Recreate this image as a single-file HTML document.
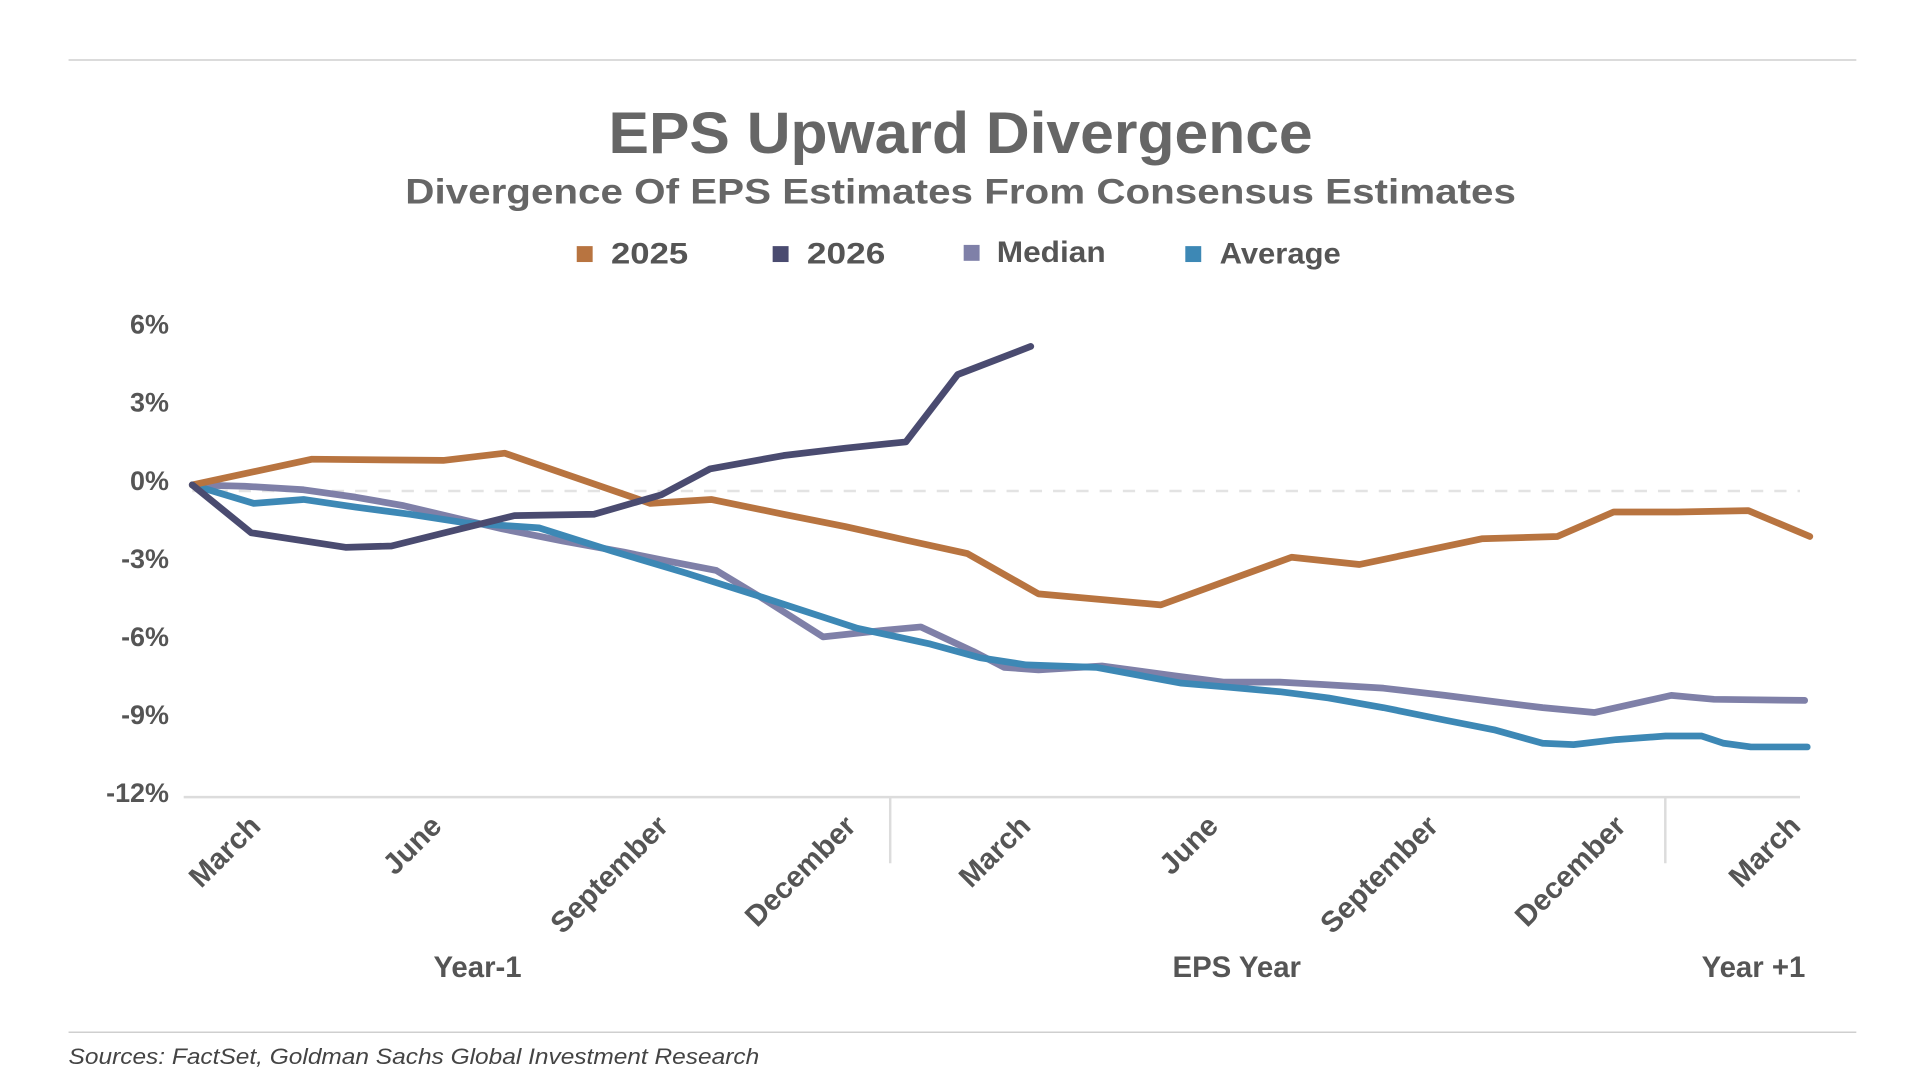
<!DOCTYPE html>
<html><head><meta charset="utf-8"><style>
html,body{margin:0;padding:0;background:#fff;width:1920px;height:1080px;overflow:hidden}
svg{display:block}
text{font-family:"Liberation Sans",sans-serif}
</style></head><body>
<svg id="chart" width="1920" height="1080" viewBox="0 0 1568 882" xmlns="http://www.w3.org/2000/svg">
<line x1="56" y1="49" x2="1516" y2="49" stroke="#cfcfcf" stroke-width="1.2"/>
<text x="497" y="125" textLength="575" lengthAdjust="spacingAndGlyphs" font-size="48" font-weight="bold" fill="#666">EPS Upward Divergence</text>
<text x="331" y="166" textLength="907" lengthAdjust="spacingAndGlyphs" font-size="29" font-weight="bold" fill="#666">Divergence Of EPS Estimates From Consensus Estimates</text>
<g font-size="24" font-weight="bold" fill="#555">
 <g><rect x="471" y="201" width="13" height="13" fill="#b87440"/><text x="499" y="215" textLength="63" lengthAdjust="spacingAndGlyphs">2025</text></g>
 <g><rect x="631" y="201" width="13" height="13" fill="#4a4b70"/><text x="659" y="215" textLength="64" lengthAdjust="spacingAndGlyphs">2026</text></g>
 <g><rect x="787" y="200" width="13" height="13" fill="#7f80a8"/><text x="814" y="214" textLength="89" lengthAdjust="spacingAndGlyphs">Median</text></g>
 <g><rect x="968" y="201" width="13" height="13" fill="#3d88b5"/><text x="996" y="215" textLength="99" lengthAdjust="spacingAndGlyphs">Average</text></g>
</g>
<g id="yaxis"></g>
<line x1="157" y1="401" x2="1470" y2="401" stroke="#e3e3e3" stroke-width="2" stroke-dasharray="10,9"/>
<line x1="150" y1="651" x2="1470" y2="651" stroke="#dcdcdc" stroke-width="2"/>
<line x1="727" y1="651" x2="727" y2="705" stroke="#dcdcdc" stroke-width="2"/>
<line x1="1360" y1="651" x2="1360" y2="705" stroke="#dcdcdc" stroke-width="2"/>
<g id="xlabels"></g>
<g font-size="24" font-weight="bold" fill="#555" text-anchor="middle">
 <text x="390" y="798">Year-1</text>
 <text x="1010" y="798">EPS Year</text>
 <text x="1432" y="798">Year +1</text>
</g>
<g id="series"></g>
<line x1="56" y1="843" x2="1516" y2="843" stroke="#cfcfcf" stroke-width="1.2"/>
<text x="56" y="869" textLength="564" lengthAdjust="spacingAndGlyphs" font-size="18" font-style="italic" fill="#444">Sources: FactSet, Goldman Sachs Global Investment Research</text>
</svg>
<script>
const yTicks=[6,3,0,-3,-6,-9,-12];
const yTickLabels=["6%","3%","0%","-3%","-6%","-9%","-12%"];
const xTickMonths=[0.4,3.2,6.7,9.6,12.3,15.2,18.6,21.5,24.2];
const xTickLabels=["March","June","September","December","March","June","September","December","March"];
const x2025=[0,1.85,3.88,4.83,7.08,8.02,9.14,10.09,11.03,11.98,13.08,14.97,16.99,18.04,19.93,21.1,21.97,22.96,24.05,25.0];
const v2025=[0,0.99,0.94,1.22,-0.71,-0.56,-1.13,-1.6,-2.12,-2.64,-4.19,-4.61,-2.78,-3.06,-2.07,-1.98,-1.04,-1.04,-0.99,-1.98];
const x2026=[0,0.91,2.37,3.08,3.84,4.98,6.21,7.25,8.0,9.14,10.09,11.03,11.83,12.96];
const v2026=[0,-1.84,-2.4,-2.35,-1.88,-1.18,-1.13,-0.38,0.61,1.13,1.41,1.65,4.24,5.32];
const xMedian=[0,0.81,1.72,2.52,3.27,4.22,4.79,5.73,6.68,7.34,8.1,8.76,9.75,10.65,11.26,12.07,12.55,13.08,14.06,15.2,15.95,16.81,17.47,18.41,19.36,20.12,20.87,21.67,22.86,23.52,24.92];
const vMedian=[0,-0.05,-0.19,-0.47,-0.8,-1.36,-1.69,-2.16,-2.59,-2.92,-3.29,-4.28,-5.84,-5.6,-5.46,-6.4,-7.01,-7.11,-6.96,-7.34,-7.58,-7.58,-7.67,-7.81,-8.09,-8.33,-8.56,-8.75,-8.09,-8.24,-8.28];
const xAverage=[0,0.95,1.72,2.52,3.37,4.22,5.36,6.49,7.63,8.76,10.28,11.41,12.17,12.89,13.97,15.29,15.95,16.81,17.56,18.41,19.36,20.12,20.87,21.35,22.01,22.77,23.33,23.67,24.09,24.96];
const vAverage=[0,-0.71,-0.56,-0.85,-1.13,-1.46,-1.65,-2.54,-3.39,-4.28,-5.51,-6.12,-6.64,-6.92,-7.01,-7.62,-7.76,-7.95,-8.19,-8.56,-9.04,-9.41,-9.93,-9.98,-9.79,-9.65,-9.65,-9.93,-10.07,-10.07];

const NS="http://www.w3.org/2000/svg";
const xs=m=>157+m*52.84;
const ys=v=>396-v*21.25;

const yg=document.getElementById('yaxis');
yTicks.forEach((t,i)=>{
  const tx=document.createElementNS(NS,'text');
  
  
  tx.setAttribute('x',138);tx.setAttribute('y',ys(t)+4);
  tx.setAttribute('text-anchor','end');tx.setAttribute('font-size','22');
  tx.setAttribute('font-weight','bold');tx.setAttribute('fill','#555');
  tx.textContent=yTickLabels[i];yg.appendChild(tx);
});
const xg=document.getElementById('xlabels');
xTickMonths.forEach((m,i)=>{
  const tx=document.createElementNS(NS,'text');
  
  
  const px=xs(m)+36, py=676;
  tx.setAttribute('x',px);tx.setAttribute('y',py);
  tx.setAttribute('text-anchor','end');tx.setAttribute('font-size','24');
  tx.setAttribute('font-weight','bold');tx.setAttribute('fill','#555');
  tx.setAttribute('transform','rotate(-45 '+px+' '+py+')');
  tx.textContent=xTickLabels[i];xg.appendChild(tx);
});
const sg=document.getElementById('series');
function line(xArr,vArr,color,name){
  const p=document.createElementNS(NS,'polyline');
  
  
  p.setAttribute('points',xArr.map((m,i)=>xs(m).toFixed(1)+','+ys(vArr[i]).toFixed(1)).join(' '));
  p.setAttribute('fill','none');p.setAttribute('stroke',color);
  p.setAttribute('stroke-width','5.5');p.setAttribute('stroke-linejoin','round');p.setAttribute('stroke-linecap','round');
  sg.appendChild(p);
}
line(xMedian,vMedian,'#7f80a8','median-line');
line(xAverage,vAverage,'#3d88b5','average-line');
line(x2025,v2025,'#b87440','series-2025-line');
line(x2026,v2026,'#4a4b70','series-2026-line');
</script>
</body></html>
